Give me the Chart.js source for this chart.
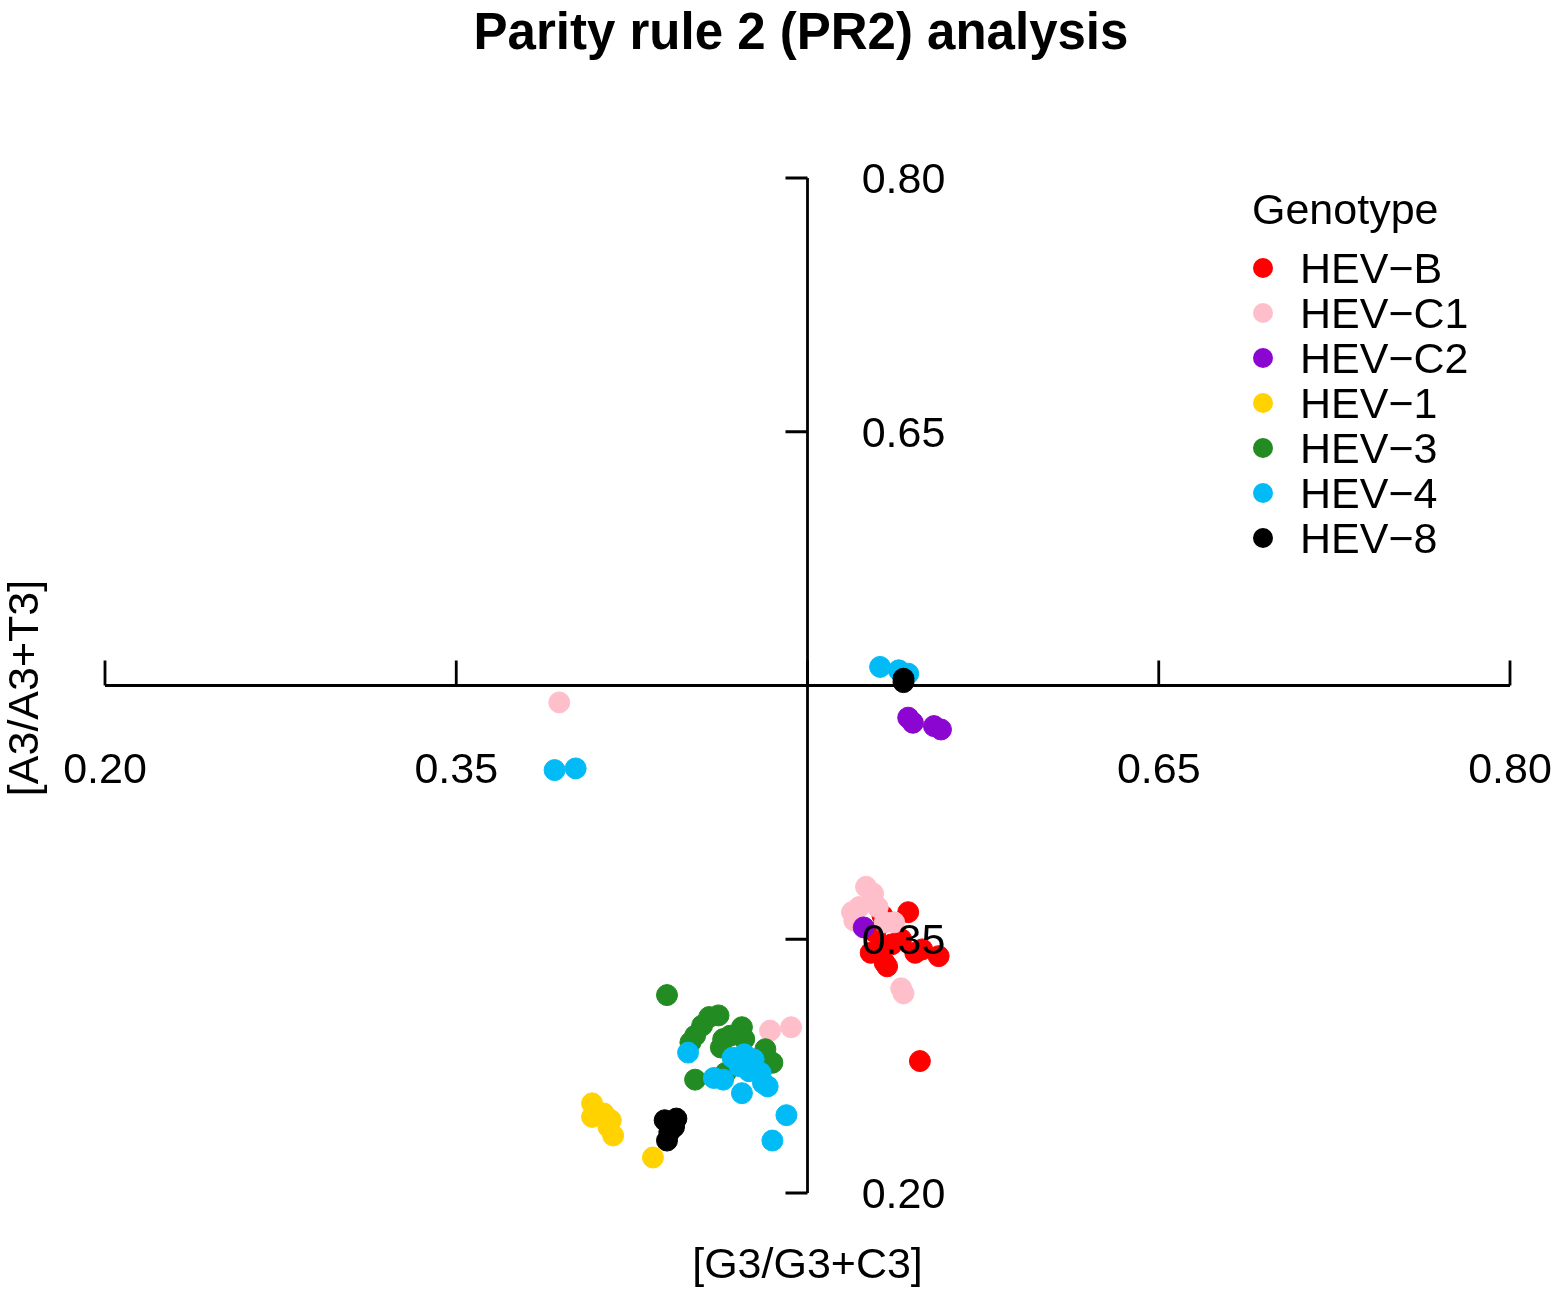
<!DOCTYPE html>
<html>
<head>
<meta charset="utf-8">
<title>Parity rule 2 (PR2) analysis</title>
<script src="https://cdn.jsdelivr.net/npm/chart.js@4.4.1/dist/chart.umd.min.js"></script>
<style>
    html, body { margin: 0; padding: 0; background: #fff; }
    #wrap { width: 1559px; height: 1295px; position: relative; }
</style>
</head>
<body>
<div id="wrap"><canvas id="pr2Chart"></canvas></div>
<script>
// series
const genotypes = ['HEV\u2212B', 'HEV\u2212C1', 'HEV\u2212C2', 'HEV\u22121', 'HEV\u22123', 'HEV\u22124', 'HEV\u22128'];
const colores = ['#ff0000', '#ffbfca', '#8c06d2', '#ffd200', '#228b22', '#00bbf5', '#000000'];

const hevBX = [0.532, 0.543, 0.529, 0.532, 0.527, 0.533, 0.534, 0.540, 0.546, 0.549, 0.556, 0.536, 0.548];
const hevBY = [0.364, 0.366, 0.354, 0.346, 0.342, 0.336, 0.334, 0.350, 0.342, 0.344, 0.340, 0.347, 0.278];

const hevC1X = [0.525, 0.528, 0.522, 0.520, 0.530, 0.533, 0.537, 0.540, 0.541, 0.519, 0.484, 0.493, 0.394];
const hevC1Y = [0.381, 0.377, 0.369, 0.361, 0.369, 0.360, 0.360, 0.321, 0.318, 0.366, 0.296, 0.298, 0.490];

const hevC2X = [0.543, 0.545, 0.554, 0.557, 0.524];
const hevC2Y = [0.481, 0.478, 0.476, 0.474, 0.357];

const hev1X = [0.408, 0.408, 0.413, 0.416, 0.415, 0.417, 0.434];
const hev1Y = [0.253, 0.245, 0.247, 0.243, 0.239, 0.234, 0.221];

const hev3X = [0.440, 0.458, 0.462, 0.455, 0.452, 0.450, 0.464, 0.472, 0.473, 0.463, 0.482, 0.485, 0.452, 0.465, 0.467];
const hev3Y = [0.317, 0.304, 0.305, 0.299, 0.293, 0.289, 0.291, 0.298, 0.291, 0.286, 0.285, 0.277, 0.267, 0.271, 0.293];

const hev4X = [0.531, 0.539, 0.543, 0.392, 0.401, 0.449, 0.460, 0.464, 0.468, 0.473, 0.477, 0.471, 0.475, 0.480, 0.481, 0.483, 0.472, 0.491, 0.485];
const hev4Y = [0.511, 0.509, 0.507, 0.450, 0.451, 0.283, 0.268, 0.267, 0.280, 0.282, 0.279, 0.275, 0.272, 0.271, 0.265, 0.263, 0.259, 0.246, 0.231];

const hev8X = [0.541, 0.541, 0.439, 0.444, 0.443, 0.441, 0.440];
const hev8Y = [0.504, 0.502, 0.243, 0.244, 0.239, 0.236, 0.231];

// axis ticks
const xTicks = [0.20, 0.35, 0.50, 0.65, 0.80];
const xTickLabels = ['0.20', '0.35', '', '0.65', '0.80'];
const yTicks = [0.20, 0.35, 0.50, 0.65, 0.80];
const yTickLabels = ['0.20', '0.35', '', '0.65', '0.80'];
const centro = 0.5;

const serieX = [hevBX, hevC1X, hevC2X, hev1X, hev3X, hev4X, hev8X];
const serieY = [hevBY, hevC1Y, hevC2Y, hev1Y, hev3Y, hev4Y, hev8Y];
// lower order is drawn on top
const ordenDibujo = [6, 5, 1, 3, 4, 2, 0];

const FUENTE = '"Liberation Sans", Arial, Helvetica, sans-serif';

function puntos(xs, ys) {
    return xs.map(function(x, i) { return { x: x, y: ys[i] }; });
}

const datasets = genotypes.map(function(nombre, i) {
    return {
        label: nombre,
        data: puntos(serieX[i], serieY[i]),
        backgroundColor: colores[i],
        borderColor: colores[i],
        borderWidth: 1,
        pointRadius: 10.5,
        pointHoverRadius: 10.5,
        order: ordenDibujo[i]
    };
});

// axes crossing at the centre, title and legend, R style
const ejesR = {
    id: 'ejesR',
    afterDatasetsDraw: function(chart) {
        const ctx = chart.ctx;
        const sx = chart.scales.x;
        const sy = chart.scales.y;
        const ejeY = sy.getPixelForValue(centro);
        const ejeX = sx.getPixelForValue(centro);

        ctx.save();
        ctx.strokeStyle = '#000';
        ctx.fillStyle = '#000';
        ctx.lineWidth = 2.8;

        // horizontal axis
        ctx.beginPath();
        ctx.moveTo(sx.getPixelForValue(xTicks[0]), ejeY);
        ctx.lineTo(sx.getPixelForValue(xTicks[xTicks.length - 1]), ejeY);
        xTicks.forEach(function(v) {
            const px = sx.getPixelForValue(v);
            ctx.moveTo(px, ejeY);
            ctx.lineTo(px, ejeY - 25);
        });
        ctx.stroke();

        // vertical axis
        ctx.beginPath();
        ctx.moveTo(ejeX, sy.getPixelForValue(yTicks[0]));
        ctx.lineTo(ejeX, sy.getPixelForValue(yTicks[yTicks.length - 1]));
        yTicks.forEach(function(v) {
            const py = sy.getPixelForValue(v);
            ctx.moveTo(ejeX, py);
            ctx.lineTo(ejeX - 22, py);
        });
        ctx.stroke();

        ctx.font = '43px ' + FUENTE;
        ctx.textAlign = 'center';
        ctx.textBaseline = 'alphabetic';
        xTicks.forEach(function(v, i) {
            if (xTickLabels[i]) ctx.fillText(xTickLabels[i], sx.getPixelForValue(v), ejeY + 97);
        });
        yTicks.forEach(function(v, i) {
            if (yTickLabels[i]) ctx.fillText(yTickLabels[i], ejeX + 96, sy.getPixelForValue(v) + 15);
        });

        // axis titles
        ctx.fillText('[G3/G3+C3]', ejeX, 1278);
        ctx.save();
        ctx.translate(38, 688);
        ctx.rotate(-Math.PI / 2);
        ctx.fillText('[A3/A3+T3]', 0, 0);
        ctx.restore();

        // main title
        ctx.font = 'bold 51px ' + FUENTE;
        ctx.fillText('Parity rule 2 (PR2) analysis', 801, 49);

        // legend
        ctx.font = '43px ' + FUENTE;
        ctx.textAlign = 'left';
        ctx.fillText('Genotype', 1252, 224);
        genotypes.forEach(function(nombre, i) {
            const cy = 268 + 45 * i;
            ctx.beginPath();
            ctx.arc(1263, cy, 10, 0, Math.PI * 2);
            ctx.fillStyle = colores[i];
            ctx.fill();
            ctx.fillStyle = '#000';
            ctx.fillText(nombre, 1300, cy + 15);
        });
        ctx.restore();
    }
};

const ctx = document.getElementById('pr2Chart').getContext('2d');
const pr2Chart = new Chart(ctx, {
    type: 'scatter',
    data: { datasets: datasets },
    options: {
        responsive: true,
        maintainAspectRatio: false,
        devicePixelRatio: 1,
        animation: false,
        layout: {
            padding: { left: 105, right: 49, top: 178, bottom: 102 }
        },
        scales: {
            x: { type: 'linear', min: 0.2, max: 0.8, display: false },
            y: { type: 'linear', min: 0.2, max: 0.8, display: false }
        },
        plugins: {
            legend: { display: false },
            title: { display: false },
            tooltip: { enabled: false }
        }
    },
    plugins: [ejesR]
});
</script>
</body>
</html>
